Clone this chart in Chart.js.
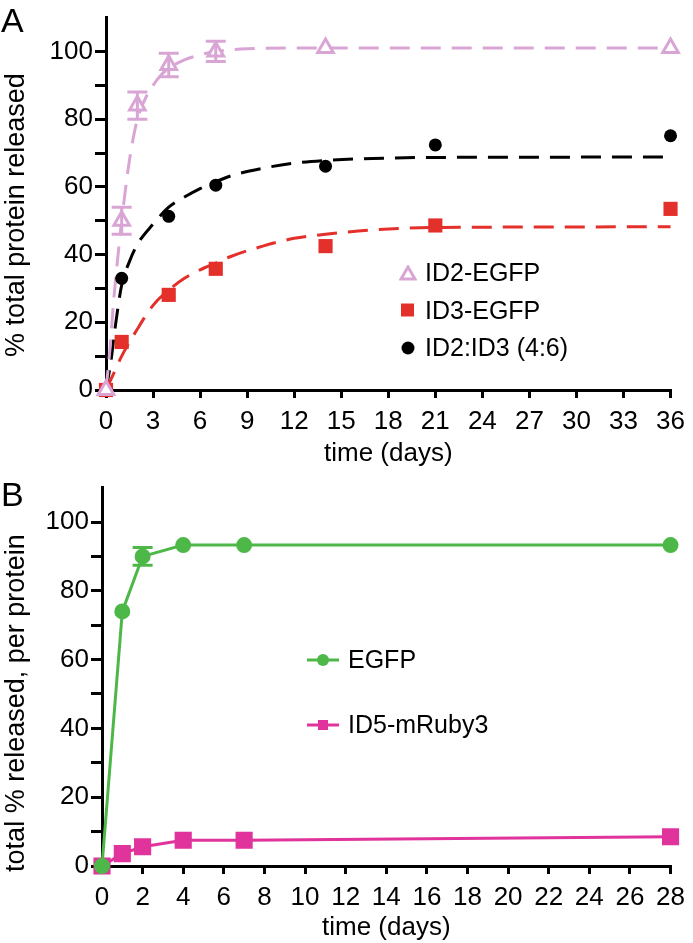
<!DOCTYPE html>
<html>
<head>
<meta charset="utf-8">
<script src="https://cdn.jsdelivr.net/npm/chart.js@4/dist/chart.umd.min.js"></script>
<style>
body { margin: 0; background: #fff; font-family: 'Liberation Sans', Arial, sans-serif; }
#wrap { position: relative; width: 693px; height: 943px; }
canvas { position: absolute; left: 0; }
.panel { position: absolute; font-size: 34px; line-height: 1; }
.leg { position: absolute; font-size: 25px; line-height: 1; display: flex; align-items: center; white-space: nowrap; }
.leg svg { margin-right: 8px; }
</style>
</head>
<body>
<div id="wrap">
  <canvas id="chartA" width="693" height="470" style="top:0"></canvas>
  <canvas id="chartB" width="693" height="473" style="top:470px"></canvas>
  <div class="panel" style="left:1px;top:3px">A</div>
  <div class="panel" style="left:1px;top:477px">B</div>
</div>
<script>
// panel A - measured release
const daysA = [0, 1, 2, 4, 7, 14, 21, 36];
const id2Mean = [0, 50, 84, 96, 100, 101, null, 101];
const id2Sd = [0, 4, 4, 3.5, 3, 0, null, 0];
const id3Mean = [0, 14.2, null, 28.1, 35.8, 42.5, 48.6, 53.5];
const mixMean = [0, 33, null, 51.3, 60.5, 66.1, 72.4, 75.1];

// panel A - fitted curves
const id2FitDays = [0, 0.25, 0.5, 0.75, 1, 1.5, 2, 2.5, 3, 3.5, 4, 5, 6, 7, 9, 12, 36];
const id2FitVals = [0, 12, 27, 39, 50, 68, 80, 86, 90, 93, 95, 97.5, 99, 100, 100.8, 101, 101];
const id3FitDays = [0, 0.5, 1, 2, 3, 4, 5, 6, 7, 8, 10, 12, 14, 17, 21, 36];
const id3FitVals = [0, 5, 10, 18, 25, 29.5, 33, 35.5, 37.5, 39.5, 42.5, 44.8, 46, 47.3, 48, 48.2];
const mixFitDays = [0, 0.3, 0.6, 1, 1.5, 2, 3, 4, 5, 6, 7, 8, 10, 12, 14, 17, 21, 36];
const mixFitVals = [0, 8, 19, 31, 38, 43, 49, 54, 57, 59.5, 61.5, 63.3, 65.5, 67, 67.8, 68.4, 68.7, 68.8];

// panel B
const daysB = [0, 1, 2, 4, 7, 28];
const egfpMean = [0, 74, 90, 93.3, 93.3, 93.3];
const egfpSd = [0, 0, 2.6, 0, 0, 0];
const rubyMean = [0, 3.6, 5.6, 7.5, 7.5, 8.5];

const namesA = ['ID2-EGFP', 'ID3-EGFP', 'ID2:ID3 (4:6)'];
const namesB = ['EGFP', 'ID5-mRuby3'];

const pink = '#d9a5d5', red = '#e4302b', green = '#4db848', magenta = '#e0339b';

Chart.defaults.font.family = "'Liberation Sans', Arial, sans-serif";
Chart.defaults.color = '#000';

function pts(xs, ys, sd) {
  return xs.map((x, i) => ({ x: x, y: ys[i], e: sd ? sd[i] : 0 })).filter(p => p.y !== null);
}

// vertical SD bars with caps
const errorBars = {
  id: 'errorBars',
  afterDatasetsDraw(chart) {
    const { ctx, scales: { x, y } } = chart;
    chart.data.datasets.forEach(ds => {
      if (!ds.errorBars) return;
      ctx.save();
      ctx.strokeStyle = ds.borderColor;
      ctx.lineWidth = 3;
      ds.data.forEach(p => {
        if (!p.e) return;
        const px = x.getPixelForValue(p.x);
        const hi = y.getPixelForValue(p.y + p.e);
        const lo = y.getPixelForValue(p.y - p.e);
        ctx.beginPath();
        ctx.moveTo(px, hi); ctx.lineTo(px, lo);
        ctx.moveTo(px - 10, hi); ctx.lineTo(px + 10, hi);
        ctx.moveTo(px - 10, lo); ctx.lineTo(px + 10, lo);
        ctx.stroke();
      });
      ctx.restore();
    });
  }
};

// trailing spaces push the rotated title down a little, like the original
function axes(xMax, xStep, yWidth, xHeight, yTitle, shift, titlePad) {
  const grid = { drawOnChartArea: false, drawTicks: true, tickLength: 11, color: '#000', lineWidth: 3 };
  return {
    x: {
      type: 'linear', min: 0, max: xMax,
      grid: Object.assign({}, grid, { tickLength: 8 }),
      border: { color: '#000', width: 3 },
      ticks: { stepSize: xStep, font: { size: 26 }, padding: 8, maxRotation: 0, autoSkip: false },
      title: { display: true, text: 'time (days)', font: { size: 26 }, padding: { top: 0, bottom: titlePad } },
      afterFit(s) { s.height = xHeight; }
    },
    y: {
      min: 0, max: 110,
      grid: grid,
      border: { color: '#000', width: 3 },
      ticks: {
        stepSize: 10, font: { size: 26 }, padding: 2,
        callback: v => v > 100 ? null : (v % 20 === 0 ? v : '')
      },
      title: { display: true, text: yTitle + ' '.repeat(shift), font: { size: 27 }, padding: { top: 0, bottom: 0 } },
      afterFit(s) { s.width = yWidth; }
    }
  };
}

const fitLine = (label, xs, ys, color) => ({
  label: label, data: pts(xs, ys), showLine: true, pointRadius: 0,
  borderColor: color, borderWidth: 3, borderDash: [20, 11],
  cubicInterpolationMode: 'monotone', clip: false
});

const chartA = new Chart(document.getElementById('chartA'), {
  type: 'scatter',
  data: {
    datasets: [
      { label: namesA[0], data: pts(daysA, id2Mean, id2Sd), pointStyle: 'triangle', pointRadius: 9,
        borderColor: pink, backgroundColor: '#fff', borderWidth: 3, errorBars: true, clip: false },
      { label: namesA[1], data: pts(daysA, id3Mean), pointStyle: 'rect', pointRadius: 10,
        borderColor: red, backgroundColor: red, borderWidth: 0, clip: false },
      { label: namesA[2], data: pts(daysA, mixMean), pointStyle: 'circle', pointRadius: 6.5,
        borderColor: '#000', backgroundColor: '#000', borderWidth: 0, clip: false },
      fitLine('fit ID2', id2FitDays, id2FitVals, pink),
      fitLine('fit ID3', id3FitDays, id3FitVals, red),
      fitLine('fit mix', mixFitDays, mixFitVals, '#000')
    ]
  },
  options: {
    responsive: false, animation: false,
    layout: { padding: { top: 9, right: 18, bottom: 0, left: 0 } },
    plugins: { legend: { display: false }, tooltip: { enabled: false } },
    scales: axes(36, 3, 106, 80, '% total protein released', 3, 1)
  },
  plugins: [errorBars]
});

const chartB = new Chart(document.getElementById('chartB'), {
  type: 'scatter',
  data: {
    datasets: [
      { label: namesB[0], data: pts(daysB, egfpMean, egfpSd), showLine: true, pointStyle: 'circle', pointRadius: 6.5,
        borderColor: green, backgroundColor: green, borderWidth: 3, errorBars: true, clip: false },
      { label: namesB[1], data: pts(daysB, rubyMean), showLine: true, pointStyle: 'rect', pointRadius: 10,
        borderColor: magenta, backgroundColor: magenta, borderWidth: 3, clip: false }
    ]
  },
  options: {
    responsive: false, animation: false,
    layout: { padding: { top: 15, right: 20, bottom: 0, left: 0 } },
    plugins: { legend: { display: false }, tooltip: { enabled: false } },
    scales: axes(28, 2, 102, 77, 'total % released, per protein', 7, 0)
  },
  plugins: [errorBars]
});

// legends as html, built from the datasets
const wrap = document.getElementById('wrap');
function addLegend(left, top, svg, text) {
  const d = document.createElement('div');
  d.className = 'leg';
  d.style.left = left + 'px';
  d.style.top = top + 'px';
  d.innerHTML = svg + '<span>' + text + '</span>';
  wrap.appendChild(d);
}
const markA = [
  `<svg width="18" height="16"><polygon points="9,2 16,14 2,14" fill="#fff" stroke="${pink}" stroke-width="3"/></svg>`,
  `<svg width="18" height="16"><rect x="2" y="1.5" width="13" height="13" fill="${red}"/></svg>`,
  `<svg width="18" height="16"><circle cx="9" cy="8" r="6.5" fill="#000"/></svg>`
];
chartA.data.datasets.slice(0, 3).forEach((ds, i) => addLegend(399, 260 + i * 37.5, markA[i], ds.label));
const markB = [
  `<svg width="34" height="16"><line x1="1" y1="8" x2="33" y2="8" stroke="${green}" stroke-width="3"/><circle cx="17" cy="8" r="6" fill="${green}"/></svg>`,
  `<svg width="34" height="16"><line x1="1" y1="8" x2="33" y2="8" stroke="${magenta}" stroke-width="3"/><rect x="12" y="3" width="10" height="10" fill="${magenta}"/></svg>`
];
chartB.data.datasets.forEach((ds, i) => addLegend(306, 647 + i * 65, markB[i], ds.label));
</script>
</body>
</html>
